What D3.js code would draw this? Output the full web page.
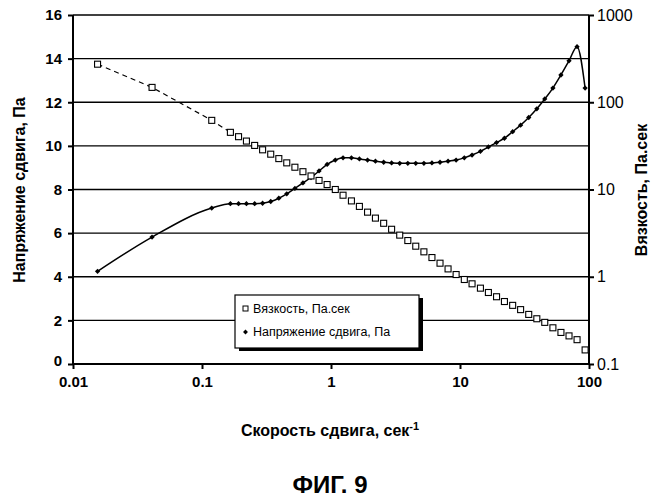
<!DOCTYPE html>
<html><head><meta charset="utf-8">
<script src="https://cdn.jsdelivr.net/npm/d3@7"></script>
<style>body{margin:0;background:#fff}text{font-family:Arial,"Liberation Sans",sans-serif}</style>
</head><body><svg id="c" width="656" height="500"></svg>
<script>
const rateSparse=[0.0155,0.041,0.119];
const stressSparse=[4.25,5.82,7.15];
const viscSparse=[273,148,62];
const rate=[0.166,0.192,0.221,0.256,0.295,0.341,0.394,0.454,0.525,0.606,0.70,0.808,0.933,1.08,1.24,1.44,1.66,1.92,2.21,2.56,2.95,3.41,3.94,4.54,5.25,6.06,7.0,8.08,9.33,10.8,12.4,14.4,16.6,19.2,22.1,25.6,29.5,34.1,39.4,45.4,52.5,60.6,70.0,80.8,93.3];
const stress=[7.35,7.35,7.35,7.35,7.37,7.45,7.6,7.8,8.05,8.3,8.55,8.85,9.15,9.35,9.45,9.45,9.4,9.35,9.3,9.25,9.22,9.2,9.2,9.2,9.2,9.22,9.25,9.3,9.35,9.45,9.58,9.75,9.95,10.15,10.35,10.65,10.95,11.3,11.7,12.15,12.65,13.25,13.9,14.55,12.65];
const visc=[45.2,40.3,35.9,32.0,28.5,25.4,22.6,20.2,18.0,16.0,14.3,12.7,11.4,10.0,8.6,7.4,6.4,5.5,4.7,4.1,3.5,3.0,2.6,2.24,1.93,1.66,1.43,1.23,1.06,0.93,0.83,0.74,0.66,0.59,0.52,0.47,0.42,0.37,0.33,0.30,0.26,0.23,0.21,0.19,0.145];
const xTicks=[0.01,0.1,1,10,100];
const yLeftTicks=[0,2,4,6,8,10,12,14,16];
const yRightTicks=[0.1,1,10,100,1000];

const svg=d3.select("#c");
const L=73,R=589,T=15,B=364;
const x=d3.scaleLog().domain([0.01,100]).range([L,R]);
const yl=d3.scaleLinear().domain([0,16]).range([B,T]);
const yr=d3.scaleLog().domain([0.1,1000]).range([B,T]);

svg.append("g").selectAll("line").data(yLeftTicks).join("line")
 .attr("x1",L).attr("x2",R).attr("y1",d=>yl(d)).attr("y2",d=>yl(d)).attr("stroke","#000").attr("stroke-width",1.3);

const ax=svg.append("g").attr("transform",`translate(0,${B})`).call(d3.axisBottom(x).tickValues(xTicks).tickFormat(d=>String(d)).tickSize(5).tickPadding(7));
const ayl=svg.append("g").attr("transform",`translate(${L},0)`).call(d3.axisLeft(yl).tickValues(yLeftTicks).tickSize(5).tickPadding(6));
const ayr=svg.append("g").attr("transform",`translate(${R},0)`).call(d3.axisRight(yr).tickValues(yRightTicks).tickFormat(d=>String(d)).tickSize(5));
[ax,ayl,ayr].forEach(g=>{g.selectAll("path,line").attr("stroke","#000").attr("stroke-width",2);
 g.selectAll("text").attr("font-size",15).attr("font-weight","bold").attr("fill","#000");});
ax.select(".domain").attr("d",`M${L},0H${R}`);
ayl.select(".domain").attr("d",`M0,${T}V${B}`);
ayr.select(".domain").attr("d",`M0,${T}V${B}`);
ayr.selectAll("text").attr("font-weight","normal").attr("font-size",16);
ayl.selectAll("text").filter(d=>d===0).attr("dy","0.1em");

const vAll=rateSparse.map((r,i)=>[r,viscSparse[i]]).concat([[rate[0],visc[0]]]);
svg.append("path").attr("d",d3.line().x(d=>x(d[0])).y(d=>yr(d[1]))(vAll)).attr("fill","none").attr("stroke","#000").attr("stroke-width",1.2).attr("stroke-dasharray","5,4");
const sAll=rateSparse.map((r,i)=>[r,stressSparse[i]]).concat(rate.map((r,i)=>[r,stress[i]]));
svg.append("path").attr("d",d3.line().curve(d3.curveMonotoneX).x(d=>x(d[0])).y(d=>yl(d[1]))(sAll)).attr("fill","none").attr("stroke","#000").attr("stroke-width",1.5);
svg.append("g").selectAll("path").data(sAll).join("path")
 .attr("d",d3.symbol(d3.symbolSquare,14)).attr("transform",d=>`translate(${x(d[0])},${yl(d[1])}) rotate(45)`).attr("fill","#000");
const vPts=rateSparse.map((r,i)=>[r,viscSparse[i]]).concat(rate.map((r,i)=>[r,visc[i]]));
svg.append("g").selectAll("rect").data(vPts).join("rect")
 .attr("x",d=>x(d[0])-3).attr("y",d=>yr(d[1])-3).attr("width",6).attr("height",6).attr("fill","#fff").attr("stroke","#000").attr("stroke-width",1.1);

const lg=svg.append("g");
lg.append("rect").attr("x",239).attr("y",298).attr("width",184).attr("height",53).attr("fill","#000");
lg.append("rect").attr("x",235).attr("y",295).attr("width",184).attr("height",53).attr("fill","#fff").attr("stroke","#000").attr("stroke-width",1.2);
lg.append("rect").attr("x",243).attr("y",306).attr("width",5).attr("height",5).attr("fill","#fff").attr("stroke","#000");
lg.append("text").attr("x",253).attr("y",313).attr("font-size",12.5).text("Вязкость, Па.сек");
lg.append("path").attr("d",d3.symbol(d3.symbolSquare,12)).attr("transform","translate(245.5,332) rotate(45)");
lg.append("text").attr("x",253).attr("y",336).attr("font-size",12.5).text("Напряжение сдвига, Па");

svg.append("text").attr("transform","translate(25,190) rotate(-90)").attr("text-anchor","middle").attr("font-size",16).attr("font-weight","bold").text("Напряжение сдвига, Па");
svg.append("text").attr("transform","translate(647,190) rotate(-90)").attr("text-anchor","middle").attr("font-size",16).attr("font-weight","bold").text("Вязкость, Па.сек");
const xl=svg.append("text").attr("x",330).attr("y",436).attr("text-anchor","middle").attr("font-size",16).attr("font-weight","bold");
xl.append("tspan").text("Скорость сдвига, сек");
xl.append("tspan").attr("dy",-6).attr("font-size",11).text("-1");
svg.append("text").attr("x",330).attr("y",493).attr("text-anchor","middle").attr("font-size",24).attr("font-weight","bold").text("ФИГ. 9");
</script></body></html>
